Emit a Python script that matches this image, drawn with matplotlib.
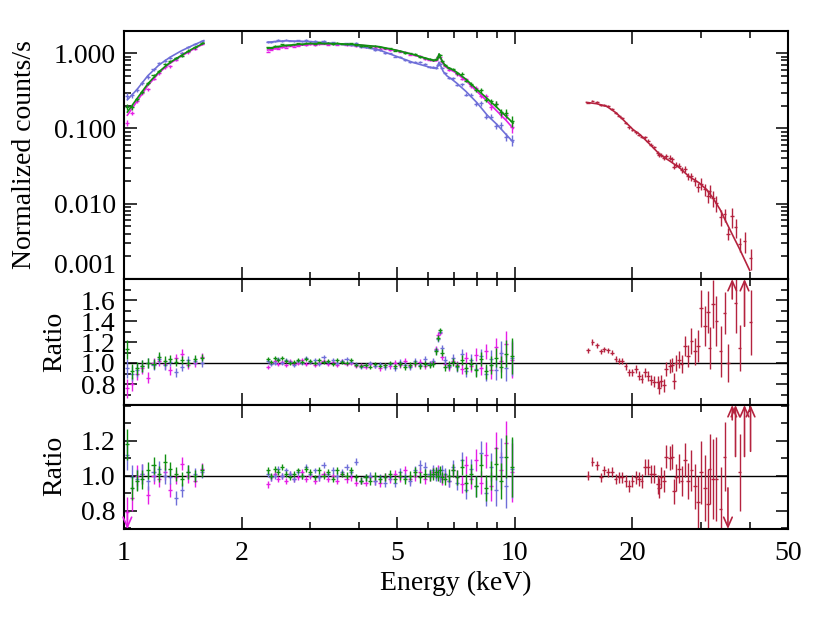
import numpy as np
import matplotlib
matplotlib.use('Agg')
import matplotlib.pyplot as plt
from matplotlib.ticker import FixedLocator, NullFormatter, FuncFormatter, LogLocator, MultipleLocator

plt.rcParams['font.family'] = ['Liberation Serif', 'DejaVu Serif']
plt.rcParams['font.size'] = 20

# ---------------- data ----------------
# soft band energy bins (keV), shared by the three XIS cameras
e_lo = [1.02, 1.05, 1.08, 1.11, 1.15, 1.19, 1.23, 1.27, 1.31, 1.36, 1.41, 1.46, 1.52, 1.58]
e_hi = [2.33, 2.38, 2.43, 2.48, 2.54, 2.60, 2.66, 2.72, 2.79, 2.86,
        2.93, 3.00, 3.08, 3.16, 3.24, 3.33, 3.42, 3.51, 3.61, 3.71,
        3.81, 3.92, 4.03, 4.15, 4.27, 4.39, 4.52, 4.65, 4.79, 4.93,
        5.08, 5.23, 5.39, 5.55, 5.72, 5.89, 6.05, 6.18, 6.28, 6.36,
        6.43, 6.52, 6.63, 6.78, 6.95, 7.13, 7.32, 7.52, 7.73, 7.95,
        8.18, 8.42, 8.67, 8.93, 9.20, 9.50, 9.85]
err_lo = [0.09, 0.07, 0.06, 0.055, 0.05, 0.05, 0.045, 0.045, 0.04, 0.04, 0.04, 0.04, 0.035, 0.035]
err_hi = [0.020, 0.018, 0.018, 0.018, 0.017, 0.017, 0.017, 0.017, 0.017, 0.017,
          0.017, 0.017, 0.017, 0.018, 0.018, 0.018, 0.018, 0.019, 0.019, 0.019,
          0.020, 0.020, 0.020, 0.021, 0.021, 0.022, 0.022, 0.023, 0.023, 0.024,
          0.025, 0.026, 0.027, 0.028, 0.029, 0.030, 0.031, 0.032, 0.032, 0.030,
          0.028, 0.032, 0.035, 0.037, 0.040, 0.043, 0.047, 0.051, 0.056, 0.061,
          0.067, 0.074, 0.082, 0.092, 0.105, 0.125, 0.170]

# model curves (coarse grid)
emod_lo = [1.02, 1.08, 1.15, 1.23, 1.31, 1.40, 1.50, 1.60]
emod_hi = [2.33, 2.6, 3.0, 3.5, 4.0, 4.5, 5.0, 5.5, 6.0, 6.2, 6.32, 6.40, 6.46, 6.56,
           6.7, 6.9, 7.1, 7.5, 8.0, 8.5, 9.0, 9.5, 9.9]

# XIS0 (magenta)
xis0_mod_lo = [0.15, 0.23, 0.37, 0.55, 0.73, 0.91, 1.12, 1.33]
xis0_mod_hi = [1.10, 1.22, 1.31, 1.33, 1.28, 1.20, 1.08, 0.95, 0.83, 0.79, 0.80, 0.96, 0.85, 0.72,
               0.64, 0.59, 0.54, 0.43, 0.31, 0.23, 0.17, 0.128, 0.100]
xis0_cts_lo = [0.118, 0.161, 0.23, 0.293, 0.33, 0.46, 0.54, 0.65, 0.67, 0.82, 1.00, 1.03, 1.125, 1.34]
xis0_cts_hi = [1.045, 1.11, 1.16, 1.14, 1.19, 1.18, 1.25, 1.225, 1.25, 1.31,
               1.27, 1.31, 1.275, 1.31, 1.34, 1.30, 1.33, 1.29, 1.33, 1.28,
               1.29, 1.24, 1.24, 1.21, 1.23, 1.18, 1.15, 1.15, 1.11, 1.11,
               1.05, 1.05, 0.96, 0.94, 0.92, 0.84, 0.82, 0.81, 0.81, 0.89,
               0.90, 0.76, 0.68, 0.60, 0.60, 0.525, 0.456, 0.45, 0.363, 0.349,
               0.269, 0.269, 0.193, 0.209, 0.155, 0.152, 0.105]
xis0_r1_lo = [0.76, 0.80, 0.90, 0.95, 0.86, 1.00, 1.02, 0.99, 0.93, 1.05, 1.09, 0.98, 1.00, 1.06]
xis0_r1_hi = [0.96, 1.00, 1.02, 0.99, 1.01, 0.98, 1.02, 0.99, 1.00, 1.03,
              0.99, 1.01, 0.98, 1.00, 1.02, 0.99, 1.01, 0.98, 1.02, 0.99,
              1.00, 0.97, 0.98, 0.96, 0.99, 0.97, 0.95, 0.98, 0.97, 1.00,
              0.98, 1.02, 0.97, 0.99, 1.01, 0.97, 0.99, 1.01, 1.13, 1.27,
              1.29, 1.06, 0.99, 0.96, 1.02, 0.98, 0.94, 1.05, 0.97, 1.08,
              0.95, 1.11, 0.93, 1.15, 1.02, 1.18, 1.03]
xis0_r2_lo = [0.79, 0.87, 1.00, 1.01, 0.89, 1.00, 0.98, 1.02, 0.92, 0.99, 1.07, 1.00, 0.97, 1.04]
xis0_r2_hi = [0.95, 0.99, 1.01, 0.98, 1.00, 0.97, 1.01, 0.98, 0.99, 1.02,
              0.98, 1.00, 0.97, 0.99, 1.01, 0.98, 1.00, 0.97, 1.01, 0.98,
              0.99, 0.96, 0.97, 0.96, 0.99, 0.97, 0.96, 0.99, 0.98, 1.01,
              0.99, 1.03, 0.98, 1.00, 1.02, 0.98, 1.00, 1.02, 1.01, 1.03,
              0.99, 0.98, 1.00, 0.97, 1.03, 0.99, 0.95, 1.06, 0.98, 1.09,
              0.96, 1.12, 0.94, 1.16, 1.03, 1.19, 1.02]

# XIS1 (blue)
xis1_mod_lo = [0.24, 0.33, 0.50, 0.70, 0.88, 1.07, 1.27, 1.47]
xis1_mod_hi = [1.40, 1.46, 1.42, 1.33, 1.24, 1.10, 0.90, 0.75, 0.66, 0.63, 0.64, 0.76, 0.68, 0.57,
               0.50, 0.45, 0.40, 0.31, 0.22, 0.15, 0.113, 0.083, 0.066]
xis1_cts_lo = [0.27, 0.277, 0.323, 0.404, 0.485, 0.61, 0.73, 0.79, 0.87, 0.85, 1.00, 1.21, 1.32, 1.46]
xis1_cts_hi = [1.41, 1.40, 1.43, 1.50, 1.45, 1.50, 1.47, 1.43, 1.48, 1.44,
               1.50, 1.43, 1.45, 1.38, 1.46, 1.38, 1.39, 1.33, 1.34, 1.35,
               1.30, 1.36, 1.20, 1.20, 1.18, 1.10, 1.09, 1.01, 0.99, 0.90,
               0.90, 0.82, 0.76, 0.77, 0.76, 0.71, 0.66, 0.65, 0.64, 0.70,
               0.71, 0.64, 0.545, 0.466, 0.462, 0.379, 0.387, 0.281, 0.276, 0.212,
               0.215, 0.144, 0.144, 0.109, 0.111, 0.078, 0.071]
xis1_r1_lo = [0.95, 0.90, 0.93, 0.97, 1.00, 0.98, 1.04, 0.98, 1.01, 0.91, 0.96, 1.03, 1.02, 1.00]
xis1_r1_hi = [1.02, 0.99, 1.00, 1.04, 1.00, 1.03, 1.01, 0.98, 1.02, 1.00,
              1.05, 1.01, 1.03, 0.99, 1.06, 1.01, 1.03, 1.00, 1.02, 1.04,
              1.01, 0.99, 0.96, 0.98, 1.00, 0.97, 0.99, 0.96, 0.99, 0.95,
              1.01, 0.98, 0.96, 1.02, 0.98, 1.04, 0.99, 1.02, 1.12, 1.23,
              1.30, 1.14, 1.03, 0.97, 1.05, 0.96, 1.09, 0.92, 1.03, 0.94,
              1.07, 0.90, 1.04, 0.93, 1.10, 0.95, 1.05]
xis1_r2_lo = [1.12, 0.99, 0.98, 1.01, 0.97, 1.02, 1.04, 1.00, 0.99, 0.87, 0.92, 1.02, 1.01, 1.02]
xis1_r2_hi = [1.01, 0.99, 1.00, 1.04, 1.00, 1.03, 1.01, 0.98, 1.02, 1.00,
              1.05, 1.01, 1.03, 0.99, 1.06, 1.01, 1.03, 1.00, 1.02, 1.05,
              1.02, 1.08, 0.97, 0.99, 1.00, 0.97, 0.99, 0.96, 0.99, 0.96,
              1.02, 0.99, 0.97, 1.03, 1.06, 1.05, 1.01, 1.03, 1.00, 1.02,
              0.99, 1.03, 1.01, 0.97, 1.05, 0.96, 1.09, 0.92, 1.04, 0.94,
              1.13, 0.90, 1.05, 0.92, 1.11, 0.94, 1.04]

# XIS3 (green)
xis3_mod_lo = [0.165, 0.25, 0.39, 0.57, 0.75, 0.93, 1.15, 1.36]
xis3_mod_hi = [1.16, 1.27, 1.34, 1.34, 1.29, 1.22, 1.09, 0.96, 0.84, 0.80, 0.81, 0.98, 0.87, 0.74,
               0.66, 0.61, 0.56, 0.45, 0.33, 0.25, 0.19, 0.145, 0.118]
xis3_cts_lo = [0.195, 0.19, 0.243, 0.304, 0.40, 0.51, 0.575, 0.71, 0.78, 0.86, 0.93, 1.08, 1.19, 1.36]
xis3_cts_hi = [1.19, 1.18, 1.25, 1.24, 1.31, 1.28, 1.27, 1.31, 1.35, 1.32,
               1.38, 1.37, 1.33, 1.39, 1.35, 1.37, 1.31, 1.38, 1.34, 1.32,
               1.35, 1.29, 1.25, 1.26, 1.21, 1.24, 1.20, 1.17, 1.16, 1.08,
               1.07, 1.01, 0.99, 0.97, 0.90, 0.87, 0.83, 0.81, 0.83, 0.88,
               0.96, 0.79, 0.69, 0.64, 0.62, 0.54, 0.53, 0.43, 0.39, 0.32,
               0.32, 0.24, 0.23, 0.21, 0.165, 0.161, 0.126]
xis3_r1_lo = [1.13, 0.92, 0.95, 0.97, 1.00, 0.99, 1.06, 1.02, 1.04, 1.01, 1.03, 1.00, 1.04, 1.05]
xis3_r1_hi = [1.04, 1.01, 1.05, 1.03, 1.05, 1.02, 1.00, 1.01, 1.03, 1.01,
              1.04, 1.02, 1.00, 1.03, 1.01, 1.02, 0.99, 1.03, 1.01, 1.00,
              1.03, 0.98, 0.97, 0.98, 0.96, 0.99, 0.97, 0.98, 1.00, 0.97,
              0.99, 0.96, 0.98, 1.00, 0.97, 0.99, 0.98, 0.99, 1.11, 1.24,
              1.31, 1.10, 0.96, 0.98, 1.01, 0.97, 1.03, 0.95, 0.99, 0.93,
              1.04, 0.92, 0.98, 1.05, 0.96, 1.09, 1.07]
xis3_r2_lo = [1.18, 0.93, 0.97, 0.98, 1.03, 1.06, 1.01, 1.08, 1.04, 1.01, 0.98, 1.02, 1.00, 1.03]
xis3_r2_hi = [1.03, 1.00, 1.04, 1.02, 1.05, 1.01, 0.99, 1.01, 1.03, 1.00,
              1.04, 1.02, 0.99, 1.03, 1.00, 1.02, 0.98, 1.03, 1.01, 1.00,
              1.03, 0.99, 0.97, 0.99, 0.97, 1.00, 0.98, 0.99, 1.01, 0.98,
              1.00, 0.98, 1.00, 1.02, 0.99, 1.01, 1.00, 1.01, 1.02, 1.00,
              1.03, 0.99, 0.98, 1.00, 1.03, 0.99, 1.05, 0.96, 1.01, 0.94,
              1.06, 0.93, 1.00, 1.07, 0.97, 1.11, 1.05]

# PIN (crimson), hard band
e_pin = [15.4, 15.8, 16.2, 16.6, 16.9, 17.3, 17.7, 18.1, 18.5, 18.8,
         19.2, 19.6, 20.0, 20.4, 20.8, 21.1, 21.5, 21.9, 22.3, 22.7,
         23.2, 23.4, 23.7, 24.1, 24.4, 24.9, 25.2, 25.6, 25.9, 26.3,
         26.7, 27.2, 27.8, 28.3, 28.9, 29.4, 30.0, 30.6, 31.2, 31.5,
         32.2, 32.8, 33.6, 34.4, 35.1, 36.0, 36.7, 37.6, 38.7, 40.1]
pin_cts = [0.220, 0.234, 0.226, 0.205, 0.206, 0.197, 0.182, 0.160, 0.147, 0.136,
           0.117, 0.103, 0.095, 0.089, 0.082, 0.077, 0.076, 0.069, 0.061, 0.056,
           0.047, 0.044, 0.044, 0.040, 0.043, 0.041, 0.039, 0.031, 0.033, 0.032,
           0.028, 0.029, 0.023, 0.023, 0.020, 0.0166, 0.0184, 0.0155, 0.0126, 0.0148,
           0.0119, 0.0103, 0.0066, 0.0072, 0.0040, 0.0068, 0.0049, 0.0029, 0.0032, 0.0019]
pin_err = [0.025, 0.025, 0.025, 0.025, 0.026, 0.027, 0.028, 0.029, 0.030, 0.031,
           0.033, 0.035, 0.036, 0.038, 0.040, 0.042, 0.045, 0.047, 0.050, 0.053,
           0.056, 0.058, 0.060, 0.062, 0.065, 0.068, 0.070, 0.074, 0.078, 0.082,
           0.086, 0.095, 0.105, 0.12, 0.13, 0.15, 0.18, 0.19, 0.20, 0.20,
           0.23, 0.24, 0.24, 0.20, 0.18, 0.30, 0.28, 0.22, 0.30, 0.31]
nan = np.nan
pin_r1 = [1.12, 1.20, 1.17, 1.11, 1.13, 1.12, 1.10, 1.04, 1.02, 1.02,
          0.97, 0.91, 0.91, 0.94, 0.88, 0.85, 0.91, 0.88, 0.84, 0.82,
          0.82, 0.76, 0.83, 0.79, 0.94, 0.97, 0.98, 0.83, 1.00, 1.03,
          0.99, 1.16, 1.07, 1.21, 1.11, 1.16, 1.52, 1.35, 1.49, 1.14,
          1.56, 1.40, 1.11, 1.48, 1.00, nan, 1.57, 1.14, nan, 1.39]
pin_r2 = [1.00, 1.08, 1.06, 0.99, 1.03, 1.02, 1.02, 0.98, 0.99, 0.99,
          0.97, 0.94, 0.97, 0.99, 0.98, 0.97, 1.05, 1.05, 1.01, 1.01,
          0.95, 0.93, 0.99, 0.97, 1.11, 1.10, 1.11, 0.91, 0.99, 1.04,
          0.97, 1.09, 0.97, 1.03, 0.94, 0.85, 1.02, 0.93, 0.84, 1.04,
          0.98, 0.98, 0.81, 1.11, nan, nan, nan, 1.02, nan, nan]
emod_pin = [15.25, 16.2, 17.2, 18.2, 19.3, 20.1, 20.9, 22.2, 23.5, 24.9,
            26.4, 27.9, 29.6, 30.9, 32.1, 33.5, 34.8, 36.2, 37.6, 39.9]
pin_mod = [0.222, 0.213, 0.196, 0.160, 0.118, 0.096, 0.083, 0.061, 0.045, 0.037,
           0.030, 0.023, 0.019, 0.0155, 0.0120, 0.0084, 0.0056, 0.0037, 0.0025, 0.0013]

# points outside the ratio ranges (drawn as arrows): energy, visible end of the bar
pin_up1_e, pin_up1_lo = [36.0, 38.7], [1.61, 1.35]
pin_up2_e, pin_up2_lo = [36.0, 36.7, 38.7, 40.1], [1.32, 1.11, 1.11, 1.14]
pin_dn2_e, pin_dn2_hi = [35.1], [0.93]
xis0_dn2_e, xis0_dn2_hi = [1.02], [0.79]

c_xis0 = '#e61ee6'
c_xis1 = '#6f6fd8'
c_xis3 = '#109010'
c_pin = '#b5233f'

# ---------------- figure ----------------
fig = plt.figure(figsize=(8.3, 6.23), dpi=100)
L, W = 124 / 830, 664 / 830
ax1 = fig.add_axes([L, 1 - 279 / 623, W, 248 / 623])
ax2 = fig.add_axes([L, 1 - 405 / 623, W, 126 / 623], sharex=ax1)
ax3 = fig.add_axes([L, 1 - 529 / 623, W, 124 / 623], sharex=ax1)

xis = [
    (c_xis0, xis0_cts_lo, xis0_cts_hi, xis0_mod_lo, xis0_mod_hi, xis0_r1_lo, xis0_r1_hi, xis0_r2_lo, xis0_r2_hi),
    (c_xis1, xis1_cts_lo, xis1_cts_hi, xis1_mod_lo, xis1_mod_hi, xis1_r1_lo, xis1_r1_hi, xis1_r2_lo, xis1_r2_hi),
    (c_xis3, xis3_cts_lo, xis3_cts_hi, xis3_mod_lo, xis3_mod_hi, xis3_r1_lo, xis3_r1_hi, xis3_r2_lo, xis3_r2_hi),
]

eb = dict(fmt='none', elinewidth=1.0, capsize=0)

for c, cl, ch, ml, mh, r1l, r1h, r2l, r2h in xis:
    for e, cts, err, r1, r2 in [(e_lo, cl, err_lo, r1l, r2l), (e_hi, ch, err_hi, r1h, r2h)]:
        e = np.array(e)
        cts = np.array(cts)
        err = np.array(err)
        xe = e * 0.012
        ax1.errorbar(e, cts, yerr=cts * err, xerr=xe, ecolor=c, **eb)
        ax2.errorbar(e, r1, yerr=err, xerr=xe, ecolor=c, **eb)
        ax3.errorbar(e, r2, yerr=err, xerr=xe, ecolor=c, **eb)
    ax1.plot(emod_lo, ml, color=c, lw=1.2)
    ax1.plot(emod_hi, mh, color=c, lw=1.2)

ep = np.array(e_pin)
pc = np.array(pin_cts)
pe = np.array(pin_err)
ax1.errorbar(ep, pc, yerr=pc * pe, xerr=ep * 0.011, ecolor=c_pin, **eb)
ax1.plot(emod_pin, pin_mod, color=c_pin, lw=1.2)
ax2.errorbar(ep, pin_r1, yerr=pe, xerr=ep * 0.011, ecolor=c_pin, **eb)
ax3.errorbar(ep, pin_r2, yerr=pe, xerr=ep * 0.011, ecolor=c_pin, **eb)

ax1.set_ylim(0.001, 1.97)
ax2.set_ylim(0.6, 1.8)
ax3.set_ylim(0.695, 1.405)
ax1.set_xlim(1, 50)


def arrows(ax, es, ends, color, up=True):
    y0, y1 = ax.get_ylim()
    for e, s in zip(es, ends):
        ax.annotate('', xy=(e, y1 if up else y0), xytext=(e, s),
                    arrowprops=dict(arrowstyle='->,head_length=0.5,head_width=0.22',
                                    color=color, lw=1.2, shrinkA=0, shrinkB=0,
                                    mutation_scale=14))


arrows(ax2, pin_up1_e, pin_up1_lo, c_pin)
arrows(ax3, pin_up2_e, pin_up2_lo, c_pin)
arrows(ax3, pin_dn2_e, pin_dn2_hi, c_pin, up=False)
arrows(ax3, xis0_dn2_e, xis0_dn2_hi, c_xis0, up=False)

for ax in (ax2, ax3):
    ax.axhline(1.0, color='black', lw=1.0, zorder=0)

# ticks
for ax in (ax1, ax2, ax3):
    ax.set_xscale('log')
    ax.tick_params(which='both', direction='in', top=True, right=True, width=1.1, labelsize=20)
    ax.tick_params(which='major', length=9, pad=6)
    ax.tick_params(which='minor', length=5)
    for s in ax.spines.values():
        s.set_linewidth(1.5)

ax3.xaxis.set_major_locator(FixedLocator([1, 2, 5, 10, 20, 50]))
ax3.xaxis.set_minor_locator(FixedLocator([3, 4, 6, 7, 8, 9, 30, 40]))
ax3.xaxis.set_major_formatter(FuncFormatter(lambda v, p: f'{v:g}'))
ax3.xaxis.set_minor_formatter(NullFormatter())
ax3.tick_params(axis='x', which='major', pad=9)
ax1.tick_params(labelbottom=False)
ax2.tick_params(labelbottom=False)

ax1.set_yscale('log')
ax1.yaxis.set_major_locator(FixedLocator([0.001, 0.01, 0.1, 1.0]))
ax1.yaxis.set_major_formatter(FuncFormatter(lambda v, p: f'{v:.3f}'))
ax1.yaxis.set_minor_locator(LogLocator(base=10, subs=np.arange(2, 10)))
ax1.yaxis.set_minor_formatter(NullFormatter())

ax2.yaxis.set_major_locator(FixedLocator([0.8, 1.0, 1.2, 1.4, 1.6]))
ax2.yaxis.set_minor_locator(MultipleLocator(0.1))
ax3.yaxis.set_major_locator(FixedLocator([0.8, 1.0, 1.2]))
ax3.yaxis.set_minor_locator(MultipleLocator(0.1))
for ax in (ax2, ax3):
    ax.yaxis.set_major_formatter(FuncFormatter(lambda v, p: f'{v:.1f}'))

# labels
fig.text(25 / 830, 1 - 155 / 623, 'Normalized counts/s', rotation=90, ha='center', va='center', fontsize=20)
fig.text(55 / 830, 1 - 342 / 623, 'Ratio', rotation=90, ha='center', va='center', fontsize=20)
fig.text(55 / 830, 1 - 466 / 623, 'Ratio', rotation=90, ha='center', va='center', fontsize=20)
fig.text(456 / 830, 1 - 583 / 623, 'Energy (keV)', ha='center', va='center', fontsize=20)

# bottom label of the top panel sits just above its tick, as in the original
fig.canvas.draw()
for t in ax1.yaxis.get_major_ticks():
    if abs(t.get_loc() - 0.001) < 1e-9:
        t.label1.set_va('bottom')

fig.savefig('out.png', dpi=100)
